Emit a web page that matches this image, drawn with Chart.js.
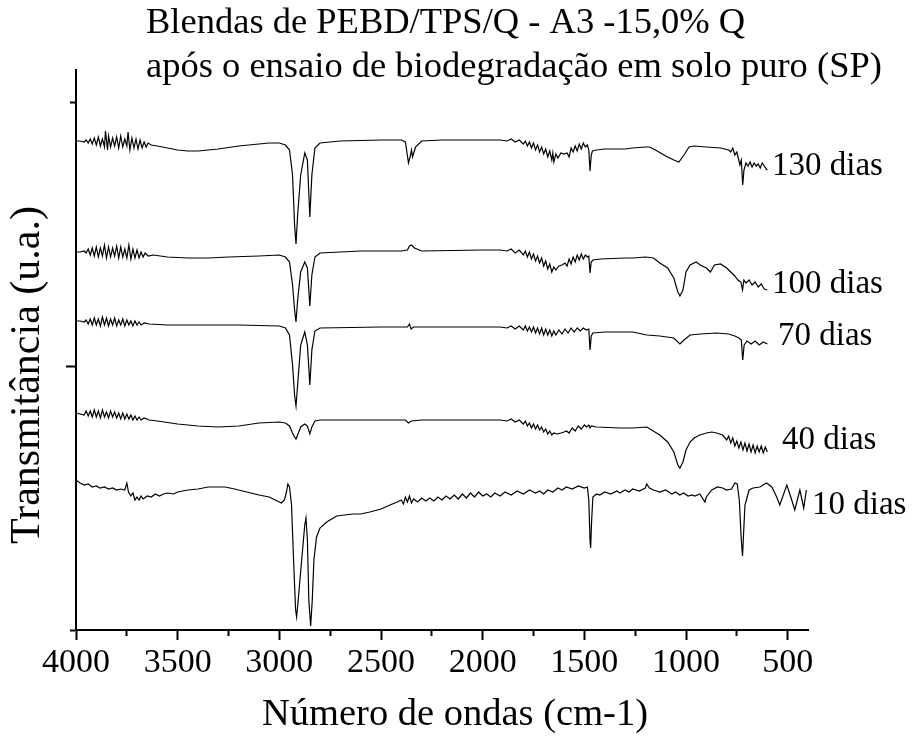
<!DOCTYPE html>
<html>
<head>
<meta charset="utf-8">
<script src="https://cdn.jsdelivr.net/npm/chart.js@4/dist/chart.umd.min.js"></script>
<style>
  html, body { margin: 0; padding: 0; background: #fff; }
  #c { display: block; }
</style>
</head>
<body>
<canvas id="c" width="916" height="742"></canvas>
<script>
'use strict';

// texts
const titleLines = ['Blendas de PEBD/TPS/Q - A3 -15,0% Q', 'após o ensaio de biodegradação em solo puro (SP)'];
const xTitle = 'Número de ondas (cm-1)';
const yTitle = 'Transmitância (u.a.)';
const seriesNames = ['130 dias', '100 dias', '70 dias', '40 dias', '10 dias'];

// axis ticks (wavenumber, cm-1) and y ticks (a.u., unlabelled)
const xMajorTicks = [4000, 3500, 3000, 2500, 2000, 1500, 1000, 500];
const xMinorTicks = [3750, 3250, 2750, 2250, 1750, 1250, 750];
const yMajorTicks = [264];
const yMinorTicks = [0, 528];

// spectra: [wavenumber, transmittance (a.u., offset)]
const dias130 = [
  [4000, 489], [3980, 489], [3960, 488], [3950, 490], [3940, 487], [3930, 491], [3920, 486], [3910, 492],
  [3900, 485], [3890, 493], [3880, 484], [3870, 491], [3860, 483], [3855, 499], [3845, 480], [3840, 494],
  [3830, 483], [3820, 492], [3810, 484], [3800, 493], [3790, 482], [3780, 494], [3770, 483], [3760, 491],
  [3750, 484], [3744, 498], [3735, 480], [3725, 492], [3715, 482], [3705, 491], [3695, 481], [3685, 490],
  [3675, 482], [3665, 488], [3655, 483], [3645, 487], [3630, 485], [3600, 484], [3550, 482], [3500, 480],
  [3450, 479], [3400, 479], [3350, 480], [3300, 481], [3200, 484], [3100, 486], [3050, 487], [3000, 487],
  [2970, 485], [2950, 480], [2935, 455], [2925, 405], [2918, 386], [2910, 415], [2895, 455], [2875, 477],
  [2862, 470], [2850, 413], [2840, 455], [2825, 482], [2800, 487], [2700, 489], [2500, 490], [2400, 490],
  [2380, 488], [2365, 467], [2355, 475], [2350, 480], [2345, 473], [2330, 483], [2300, 489], [2200, 490],
  [2000, 490], [1915, 490], [1880, 489], [1860, 491], [1840, 488], [1820, 490], [1800, 486], [1790, 489],
  [1780, 484], [1770, 488], [1760, 482], [1750, 487], [1740, 480], [1730, 485], [1720, 478], [1710, 483],
  [1700, 476], [1690, 481], [1680, 473], [1670, 479], [1660, 470], [1655, 477], [1650, 468], [1640, 476],
  [1630, 472], [1615, 477], [1600, 476], [1585, 477], [1575, 473], [1565, 482], [1555, 478], [1545, 484],
  [1535, 479], [1525, 486], [1515, 481], [1505, 487], [1495, 483], [1485, 485], [1478, 480], [1472, 459],
  [1466, 475], [1460, 479], [1440, 480], [1400, 481], [1300, 481], [1262, 482], [1200, 483], [1180, 483],
  [1150, 480], [1100, 474], [1060, 470], [1035, 468], [1010, 475], [985, 483], [960, 484], [900, 483],
  [830, 482], [790, 480], [780, 478], [770, 482], [760, 475], [750, 478], [735, 465], [728, 470],
  [721, 445], [715, 460], [705, 467], [695, 464], [685, 468], [675, 463], [665, 467], [655, 464],
  [645, 466], [635, 462], [625, 467], [615, 464], [605, 461], [600, 460]
];

const dias100 = [
  [4000, 378], [3980, 378], [3960, 379], [3950, 377], [3940, 381], [3930, 375], [3920, 382], [3910, 374],
  [3900, 383], [3890, 373], [3880, 382], [3870, 374], [3860, 385], [3850, 372], [3840, 383], [3830, 373],
  [3820, 382], [3810, 374], [3800, 384], [3790, 372], [3780, 383], [3770, 373], [3760, 381], [3750, 372],
  [3740, 385], [3730, 371], [3720, 381], [3710, 372], [3700, 380], [3690, 372], [3680, 378], [3670, 373],
  [3660, 377], [3645, 374], [3620, 375], [3550, 373], [3450, 372], [3350, 372], [3250, 373], [3100, 374],
  [3000, 375], [2970, 373], [2950, 368], [2935, 345], [2925, 320], [2918, 308], [2910, 330], [2895, 358],
  [2875, 368], [2862, 362], [2850, 324], [2840, 355], [2825, 373], [2800, 377], [2600, 379], [2400, 379],
  [2370, 380], [2360, 384], [2350, 385], [2335, 382], [2300, 379], [2000, 380], [1915, 380], [1880, 379],
  [1860, 381], [1840, 377], [1820, 380], [1800, 375], [1790, 379], [1780, 373], [1770, 378], [1760, 371],
  [1750, 376], [1740, 369], [1730, 374], [1720, 367], [1710, 372], [1700, 364], [1690, 369], [1680, 361],
  [1670, 366], [1660, 358], [1650, 363], [1640, 360], [1625, 364], [1610, 365], [1595, 367], [1585, 364],
  [1575, 371], [1565, 366], [1555, 373], [1545, 368], [1535, 375], [1525, 370], [1515, 376], [1505, 371],
  [1495, 375], [1485, 373], [1478, 374], [1472, 357], [1466, 368], [1458, 370], [1420, 371], [1300, 372],
  [1262, 372], [1200, 373], [1160, 372], [1129, 367], [1090, 362], [1060, 352], [1040, 338], [1030, 334],
  [1015, 340], [1000, 358], [980, 365], [950, 368], [930, 365], [900, 362], [880, 358], [860, 365],
  [830, 366], [800, 362], [780, 358], [760, 354], [745, 350], [730, 348], [722, 340], [715, 350],
  [705, 347], [690, 350], [675, 345], [660, 348], [645, 343], [630, 346], [615, 341], [600, 340]
];

const dias70 = [
  [4000, 309], [3980, 309], [3960, 308], [3950, 310], [3940, 306], [3930, 311], [3920, 305], [3910, 312],
  [3900, 305], [3890, 311], [3880, 304], [3870, 313], [3860, 305], [3850, 312], [3840, 304], [3830, 311],
  [3820, 305], [3810, 312], [3800, 304], [3790, 310], [3780, 305], [3770, 311], [3760, 304], [3750, 310],
  [3740, 305], [3730, 309], [3720, 304], [3710, 309], [3700, 305], [3690, 308], [3680, 305], [3665, 307],
  [3640, 306], [3550, 305], [3400, 305], [3200, 305], [3000, 304], [2970, 302], [2950, 295], [2935, 265],
  [2925, 235], [2918, 224], [2910, 245], [2895, 285], [2875, 298], [2862, 285], [2850, 245], [2840, 280],
  [2825, 299], [2800, 302], [2500, 303], [2370, 303], [2360, 306], [2352, 301], [2340, 303], [2000, 303],
  [1915, 303], [1880, 302], [1860, 304], [1840, 301], [1820, 304], [1800, 300], [1790, 304], [1780, 299],
  [1770, 303], [1760, 298], [1750, 303], [1740, 297], [1730, 302], [1720, 296], [1710, 302], [1700, 295],
  [1690, 301], [1680, 295], [1670, 300], [1660, 294], [1650, 299], [1640, 295], [1625, 300], [1610, 296],
  [1595, 301], [1580, 297], [1565, 302], [1550, 298], [1535, 302], [1520, 299], [1505, 302], [1490, 300],
  [1478, 301], [1472, 280], [1466, 294], [1458, 297], [1400, 298], [1262, 298], [1193, 295], [1129, 294],
  [1060, 292], [1030, 286], [1010, 290], [980, 295], [930, 296], [850, 297], [790, 296], [760, 294],
  [740, 292], [728, 290], [721, 270], [714, 285], [700, 289], [680, 286], [660, 289], [640, 285],
  [620, 288], [600, 286]
];

const dias40 = [
  [4000, 217], [3980, 216], [3960, 215], [3950, 219], [3940, 214], [3930, 219], [3920, 213], [3910, 220],
  [3900, 213], [3890, 219], [3880, 212], [3870, 220], [3860, 213], [3850, 218], [3840, 212], [3830, 219],
  [3820, 213], [3810, 218], [3800, 212], [3790, 217], [3780, 211], [3770, 217], [3760, 211], [3750, 216],
  [3740, 211], [3730, 215], [3720, 210], [3710, 214], [3700, 210], [3690, 213], [3680, 210], [3665, 212],
  [3640, 210], [3600, 209], [3500, 206], [3400, 204], [3300, 203], [3200, 204], [3100, 207], [3000, 208],
  [2970, 207], [2950, 204], [2935, 197], [2925, 193], [2918, 191], [2910, 195], [2895, 203], [2875, 206],
  [2862, 204], [2850, 196], [2840, 203], [2825, 209], [2800, 210], [2500, 210], [2380, 210], [2365, 207],
  [2350, 209], [2300, 210], [1915, 210], [1880, 209], [1860, 211], [1840, 208], [1820, 210], [1800, 206],
  [1790, 209], [1780, 204], [1770, 207], [1760, 202], [1750, 206], [1740, 201], [1730, 205], [1720, 200],
  [1710, 203], [1700, 198], [1690, 201], [1680, 196], [1670, 199], [1660, 195], [1650, 197], [1635, 196],
  [1615, 197], [1600, 198], [1588, 199], [1575, 197], [1560, 202], [1545, 199], [1530, 204], [1515, 201],
  [1500, 205], [1489, 203], [1478, 205], [1472, 202], [1466, 204], [1440, 203], [1325, 202], [1262, 202],
  [1193, 203], [1129, 195], [1090, 188], [1060, 178], [1040, 165], [1030, 162], [1015, 168], [1000, 180],
  [980, 188], [960, 192], [932, 195], [900, 197], [873, 198], [850, 197], [820, 195], [800, 190],
  [790, 194], [780, 187], [770, 192], [760, 184], [750, 189], [740, 182], [730, 188], [720, 180],
  [710, 187], [700, 179], [690, 186], [680, 178], [670, 185], [660, 177], [650, 184], [640, 178],
  [630, 184], [620, 177], [610, 183], [600, 178]
];

const dias10 = [
  [4000, 150], [3980, 147], [3960, 145], [3940, 146], [3920, 143], [3900, 144], [3882, 142], [3860, 143],
  [3840, 141], [3820, 142], [3800, 140], [3780, 141], [3760, 140], [3750, 147], [3742, 138], [3730, 134],
  [3720, 137], [3710, 130], [3700, 133], [3690, 130], [3680, 134], [3670, 131], [3650, 134], [3630, 133],
  [3610, 136], [3590, 134], [3570, 136], [3550, 137], [3520, 136], [3500, 138], [3450, 140], [3400, 141],
  [3350, 143], [3300, 143], [3267, 143], [3220, 141], [3180, 139], [3140, 137], [3100, 135], [3050, 133],
  [3010, 129], [2990, 127], [2975, 130], [2965, 138], [2958, 146], [2950, 143], [2940, 125], [2930, 70],
  [2920, 20], [2915, 13], [2905, 35], [2890, 70], [2875, 105], [2869, 112], [2862, 90], [2855, 30],
  [2846, 4], [2838, 30], [2830, 70], [2817, 93], [2800, 102], [2767, 108], [2718, 114], [2680, 115],
  [2638, 116], [2600, 116], [2555, 118], [2500, 121], [2456, 125], [2420, 128], [2400, 130], [2390, 126],
  [2380, 133], [2370, 128], [2360, 134], [2350, 127], [2340, 131], [2320, 128], [2300, 132], [2280, 129],
  [2260, 132], [2240, 129], [2220, 133], [2200, 130], [2180, 134], [2160, 131], [2140, 135], [2120, 131],
  [2100, 136], [2080, 132], [2060, 137], [2040, 133], [2020, 138], [2000, 134], [1980, 136], [1960, 133],
  [1940, 137], [1915, 134], [1890, 138], [1860, 135], [1830, 139], [1800, 136], [1770, 140], [1740, 137],
  [1719, 139], [1700, 136], [1680, 140], [1655, 138], [1630, 142], [1610, 140], [1588, 143], [1560, 141],
  [1530, 144], [1500, 142], [1485, 143], [1478, 130], [1472, 90], [1469, 82], [1464, 110], [1458, 133],
  [1440, 136], [1424, 135], [1400, 138], [1370, 136], [1340, 139], [1325, 137], [1300, 140], [1280, 138],
  [1262, 141], [1230, 139], [1200, 142], [1193, 146], [1180, 142], [1160, 140], [1129, 138], [1100, 140],
  [1070, 136], [1050, 138], [1031, 135], [1011, 137], [990, 134], [970, 135], [957, 134], [932, 136],
  [907, 128], [900, 133], [873, 140], [845, 143], [820, 142], [800, 140], [776, 141], [760, 147],
  [748, 146], [738, 130], [728, 90], [722, 74], [716, 100], [710, 125], [703, 130], [690, 140],
  [670, 142], [637, 143], [604, 147], [578, 143], [554, 133], [539, 125], [504, 145], [480, 130],
  [465, 120], [440, 140], [421, 122], [408, 140]
];

const allSeries = [dias130, dias100, dias70, dias40, dias10];

const FONT = "'Liberation Serif', 'Times New Roman', serif";

// text layout: title, axis titles and the curve labels
const textPlugin = {
  id: 'texts',
  afterDraw(chart) {
    const ctx = chart.ctx;
    ctx.save();
    ctx.fillStyle = '#000';
    ctx.textAlign = 'left';
    ctx.textBaseline = 'alphabetic';
    ctx.font = '36.5px ' + FONT;
    ctx.fillText(titleLines[0], 146, 33);
    ctx.fillText(titleLines[1], 146, 77);

    ctx.textBaseline = 'middle';
    ctx.textAlign = 'center';
    ctx.font = '38.5px ' + FONT;
    ctx.fillText(xTitle, 455, 715);

    ctx.save();
    ctx.translate(28, 375);
    ctx.rotate(-Math.PI / 2);
    ctx.font = '42px ' + FONT;
    ctx.fillText(yTitle, 0, 0);
    ctx.restore();

    const labelPos = [[772, 166], [772, 284], [778, 336], [782, 440], [812, 505]];
    ctx.textAlign = 'left';
    ctx.font = '33px ' + FONT;
    seriesNames.forEach((name, i) => {
      ctx.fillText(name, labelPos[i][0], labelPos[i][1]);
    });
    ctx.restore();
  }
};

new Chart(document.getElementById('c'), {
  type: 'line',
  data: {
    datasets: allSeries.map((s, i) => ({
      label: seriesNames[i],
      data: s.map(p => ({ x: p[0], y: p[1] })),
      borderColor: '#000',
      borderWidth: 1.2,
      pointRadius: 0,
      tension: 0,
      fill: false
    }))
  },
  options: {
    responsive: false,
    animation: false,
    layout: { padding: { top: 70, right: 108, left: 0, bottom: 0 } },
    plugins: {
      legend: { display: false },
      tooltip: { enabled: false },
      title: { display: false }
    },
    scales: {
      x: {
        type: 'linear',
        reverse: true,
        min: 400,
        max: 4000,
        afterFit: (s) => { s.height = 112; },
        afterBuildTicks: (s) => {
          s.ticks = xMajorTicks.concat(xMinorTicks).sort((a, b) => b - a).map(v => ({ value: v }));
        },
        border: { display: true, color: '#000', width: 2 },
        grid: {
          drawOnChartArea: false,
          drawTicks: true,
          tickLength: 10,
          tickColor: '#000',
          tickWidth: 2,
          tickBorderDash: (c) => (c.tick && xMajorTicks.includes(c.tick.value)) ? [] : [5, 100]
        },
        ticks: {
          color: '#000',
          padding: 3,
          maxRotation: 0,
          autoSkip: false,
          font: { family: FONT, size: 34 },
          callback: (v) => xMajorTicks.includes(v) ? String(v) : ''
        }
      },
      y: {
        type: 'linear',
        min: 0,
        max: 560,
        afterFit: (s) => { s.width = 76; },
        afterBuildTicks: (s) => {
          s.ticks = yMinorTicks.concat(yMajorTicks).sort((a, b) => a - b).map(v => ({ value: v }));
        },
        border: { display: true, color: '#000', width: 2 },
        grid: {
          drawOnChartArea: false,
          drawTicks: true,
          tickLength: 10,
          tickColor: '#000',
          tickWidth: 2,
          tickBorderDash: (c) => (c.tick && yMajorTicks.includes(c.tick.value)) ? [] : [0, 4, 5, 100]
        },
        ticks: { display: false }
      }
    }
  },
  plugins: [textPlugin]
});
</script>
</body>
</html>
